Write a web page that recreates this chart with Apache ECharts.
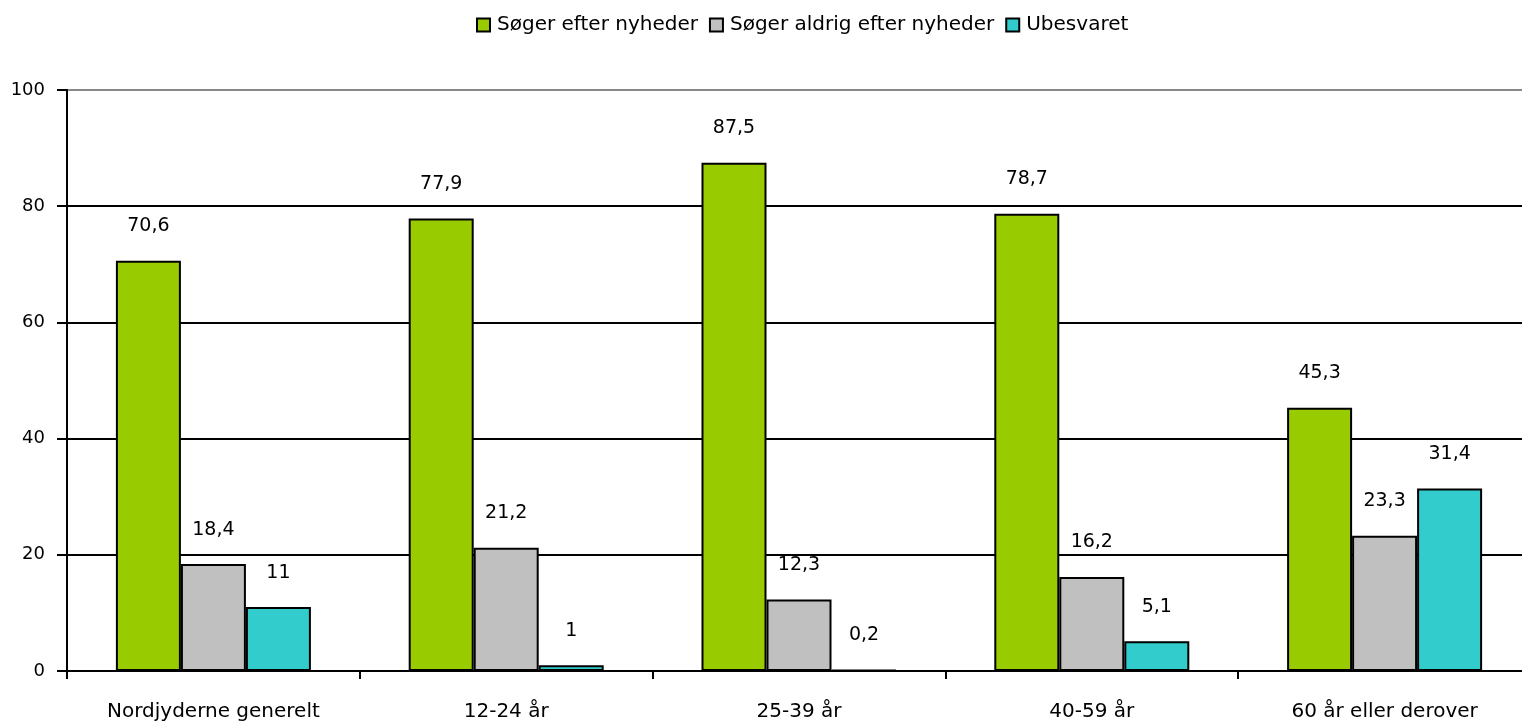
<!DOCTYPE html>
<html><head><meta charset="utf-8">
<script src="https://cdn.jsdelivr.net/npm/echarts@6/dist/echarts.min.js"></script>
<style>html,body{margin:0;padding:0;background:#fff;overflow:hidden;width:1522px;height:723px}#c{width:1531px;height:723px}</style>
</head><body><div id="c"></div>
<script>
var categories = ['Nordjyderne generelt', '12-24 år', '25-39 år', '40-59 år', '60 år eller derover'];
var seriesNames = ['Søger efter nyheder', 'Søger aldrig efter nyheder', 'Ubesvaret'];
var soeger = [70.6, 77.9, 87.5, 78.7, 45.3];
var aldrig = [18.4, 21.2, 12.3, 16.2, 23.3];
var ubesvaret = [11, 1, 0.2, 5.1, 31.4];
var colors = ['#99CC00', '#C0C0C0', '#33CCCC'];

var font = 'DejaVu Sans';
function mk(name, data, color) {
  return {
    name: name, type: 'bar', data: data, barGap: '0%', barCategoryGap: '33.4%',
    itemStyle: { color: color, borderColor: '#000', borderWidth: 2 },
    label: { show: true, position: 'top', distance: 25, color: '#000', fontFamily: font, fontSize: 19,
      formatter: function (p) { return String(p.value).replace('.', ','); } }
  };
}
var chart = echarts.init(document.getElementById('c'));
chart.setOption({
  animation: false,
  textStyle: { fontFamily: font },
  legend: {
    top: 10, left: 471, itemWidth: 13, itemHeight: 13, itemGap: 11,
    icon: 'rect',
    textStyle: { fontFamily: font, fontSize: 20, color: '#000', padding: [0, 0, 0, 2] },
    data: seriesNames.map(function (n, i) { return { name: n, itemStyle: { borderColor: '#000', borderWidth: 2 } }; })
  },
  grid: { left: 67, right: 0, top: 90, bottom: 52, containLabel: false },
  xAxis: {
    type: 'category', data: categories,
    axisLine: { lineStyle: { color: '#000', width: 2 } },
    axisTick: { show: true, length: 8, lineStyle: { color: '#000', width: 2 } },
    axisLabel: { color: '#000', fontFamily: font, fontSize: 20, margin: 31 }
  },
  yAxis: {
    type: 'value', min: 0, max: 100, interval: 20,
    axisLine: { show: true, lineStyle: { color: '#000', width: 2 } },
    axisTick: { show: true, length: 10, lineStyle: { color: '#000', width: 2 } },
    axisLabel: { color: '#000', fontFamily: font, fontSize: 18, margin: 22 },
    splitLine: { show: true, lineStyle: { color: ['#000', '#000', '#000', '#000', '#000', '#888'], width: 2 } }
  },
  series: [mk(seriesNames[0], soeger, colors[0]), mk(seriesNames[1], aldrig, colors[1]), mk(seriesNames[2], ubesvaret, colors[2])]
});
</script></body></html>
